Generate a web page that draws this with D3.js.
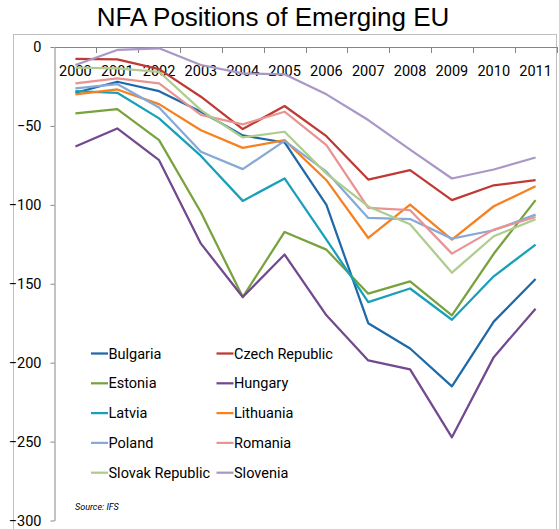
<!DOCTYPE html>
<html>
<head>
<meta charset="utf-8">
<title>NFA Positions of Emerging EU</title>
<script src="https://d3js.org/d3.v7.min.js"></script>
<style>
  body { margin: 0; background: #fff; }
  svg { display: block; }
  .tick text { font-family: Roboto, "Noto Sans", sans-serif; fill: #000; }
</style>
</head>
<body>
<svg id="svg"></svg>
<script>
// chart data
var years = ["2000","2001","2002","2003","2004","2005","2006","2007","2008","2009","2010","2011"];
var countries = ["Bulgaria","Czech Republic","Estonia","Hungary","Latvia","Lithuania","Poland","Romania","Slovak Republic","Slovenia"];
var colors = ["#1E6AA8","#BE3A34","#77A23D","#72498F","#18A0B8","#F58120","#86A9D8","#E79493","#AECC8E","#A997C7"];

var bulgaria  = [-29, -22, -28, -41, -56, -60.5, -100, -175, -191, -215, -174, -147];
var czech     = [-7.6, -7.8, -14, -31.5, -52, -37.4, -56.5, -84, -78, -97, -87.6, -84.4];
var estonia   = [-42, -39.3, -59, -104.7, -158.4, -117.2, -128.4, -156.3, -148.5, -170, -131, -97];
var hungary   = [-63, -51.6, -71.7, -124.6, -158.4, -131.5, -170, -198.6, -204.3, -247.3, -196.5, -165.8];
var latvia    = [-28, -29, -45.2, -69, -97.5, -83.3, -122, -161.6, -153, -172.8, -145.3, -125.2];
var lithuania = [-30, -26.9, -36.2, -52.7, -63.9, -59, -84.4, -121, -99.8, -122, -100.9, -88.2];
var poland    = [-26.2, -23.5, -38.3, -66.4, -77.4, -59.5, -79, -108.3, -109, -121.4, -116.1, -106.2];
var romania   = [-23, -19.9, -23, -43, -49, -41, -62.2, -102, -103.4, -130.9, -115.7, -107.7];
var slovak    = [-13.1, -13.5, -15.7, -40, -57.3, -53.7, -80.2, -101, -112.3, -143, -119.9, -109.1];
var slovenia  = [-11.4, -1.9, -0.8, -11.4, -16.7, -17.3, -30, -46.3, -65, -83.3, -77.6, -70];

var yTicks = [0, -50, -100, -150, -200, -250, -300];

var series = [bulgaria, czech, estonia, hungary, latvia, lithuania, poland, romania, slovak, slovenia];

var W = 559, H = 529;
var svg = d3.select('#svg').attr('width', W).attr('height', H);

// outer chart frame
svg.append('rect')
  .attr('x', 13.5).attr('y', 34.5)
  .attr('width', 543).attr('height', 520)
  .attr('fill', 'none').attr('stroke', '#bfbfbf');

svg.append('text')
  .attr('x', 273).attr('y', 26)
  .attr('text-anchor', 'middle')
  .style('font-family', '"Liberation Sans", Arial, sans-serif')
  .style('font-size', '26px')
  .text('NFA Positions of Emerging EU');

var x = d3.scaleBand().domain(years).range([54.5, 556.5]);
var y = d3.scaleLinear().domain([-300, 0]).range([520.5, 47]);

// y axis
var yAxis = svg.append('g')
  .attr('transform', 'translate(54.5,0)')
  .call(d3.axisLeft(y).tickValues(yTicks).tickSize(4).tickPadding(9).tickSizeOuter(0));
yAxis.select('.domain').attr('stroke', '#868686');
yAxis.selectAll('.tick line').attr('stroke', '#868686');
yAxis.selectAll('.tick text').style('font-size', '14.5px');

// x axis at zero with labels just below
var xAxis = svg.append('g')
  .attr('transform', 'translate(0,' + y(0) + ')')
  .call(d3.axisBottom(x).tickSize(0).tickPadding(19).tickSizeOuter(0));
xAxis.select('.domain').attr('stroke', '#868686');
xAxis.selectAll('.tick text').style('font-size', '14.5px');

// category boundary ticks
svg.append('g').selectAll('line')
  .data(years.slice(1).concat(['end']))
  .enter().append('line')
  .attr('x1', function(d, i) { return Math.round(x(years[0]) + x.step() * (i + 1)) + 0.5; })
  .attr('x2', function(d, i) { return Math.round(x(years[0]) + x.step() * (i + 1)) + 0.5; })
  .attr('y1', y(0)).attr('y2', y(0) + 6)
  .attr('stroke', '#868686');

var line = d3.line()
  .x(function(d, i) { return x(years[i]) + x.bandwidth() / 2; })
  .y(function(d) { return y(d); });

svg.append('g').selectAll('path')
  .data(series)
  .enter().append('path')
  .attr('d', line)
  .attr('fill', 'none')
  .attr('stroke', function(d, i) { return colors[i]; })
  .attr('stroke-width', 2.25)
  .attr('stroke-linejoin', 'round');

// legend, two columns
var legend = svg.append('g').selectAll('g')
  .data(countries)
  .enter().append('g')
  .attr('transform', function(d, i) {
    var col = i % 2, row = Math.floor(i / 2);
    return 'translate(' + (col === 0 ? 91 : 216.5) + ',' + (353.5 + row * 29.8) + ')';
  });
legend.append('line')
  .attr('x1', 0).attr('x2', 17)
  .attr('stroke', function(d, i) { return colors[i]; })
  .attr('stroke-width', 2.25);
legend.append('text')
  .attr('x', 17.5).attr('dy', '0.35em')
  .style('font-family', 'Roboto, "Noto Sans", sans-serif')
  .style('font-size', '14.5px')
  .text(function(d) { return d; });

svg.append('text')
  .attr('x', 75).attr('y', 510)
  .style('font-family', 'Roboto, "Noto Sans", sans-serif')
  .style('font-size', '9px')
  .style('font-style', 'italic')
  .text('Source: IFS');
</script>
</body>
</html>
